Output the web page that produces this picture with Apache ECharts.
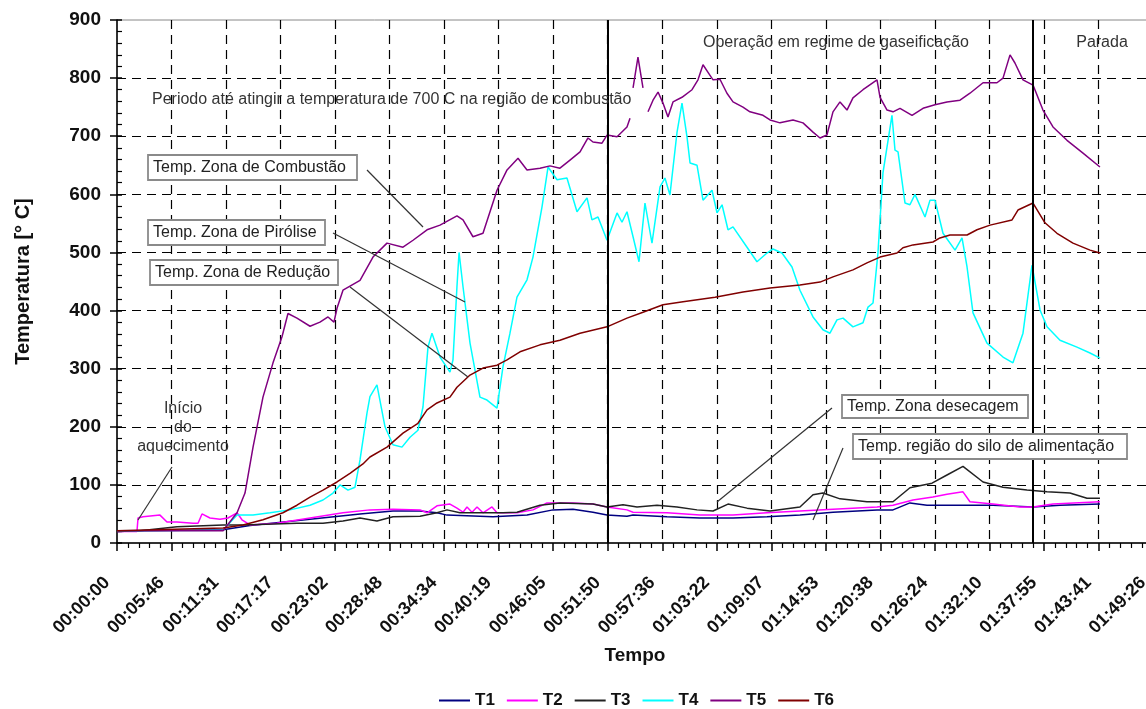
<!DOCTYPE html>
<html>
<head>
<meta charset="utf-8">
<script src="https://cdn.jsdelivr.net/npm/echarts@6/dist/echarts.min.js"></script>
<style>
  html, body { margin: 0; padding: 0; background: #fff; }
  #view1 { width: 1146px; height: 709px; }
</style>
</head>
<body>
<div id="view1"></div>
<script>
// tempo em minutos, temperatura em °C
var tickLabels = ['00:00:00', '00:05:46', '00:11:31', '00:17:17', '00:23:02', '00:28:48', '00:34:34',
  '00:40:19', '00:46:05', '00:51:50', '00:57:36', '01:03:22', '01:09:07', '01:14:53', '01:20:38',
  '01:26:24', '01:32:10', '01:37:55', '01:43:41', '01:49:26'];
var step = 6566 / 60 / 19;

var t1 = [[0, 20], [2.43, 21], [11.2, 23], [14.05, 30], [20.39, 41], [25.67, 50], [29.15, 55], [32.01, 55],
  [33.8, 52], [34.86, 48], [39.72, 45], [43.31, 48], [46.05, 57], [48.17, 58], [50.28, 53], [51.76, 48],
  [53.87, 46], [54.51, 48], [58.1, 45], [61.58, 43], [65.07, 43], [68.66, 45], [72.14, 48], [75.63, 53],
  [80.28, 57], [81.97, 57], [83.76, 69], [85.56, 65], [89.05, 65], [92.53, 65], [96.76, 62], [99.61, 65],
  [103.83, 67]];
var t2 = [[0, 20], [2.11, 20], [2.22, 43], [2.75, 45], [4.54, 48], [5.28, 36], [6.34, 36], [8.03, 34],
  [8.56, 34], [8.98, 50], [9.82, 43], [10.88, 41], [11.72, 43], [12.68, 52], [13.2, 40], [14.05, 31],
  [16.9, 34], [20.39, 43], [23.87, 52], [26.72, 57], [29.15, 58], [32.01, 57], [32.75, 52], [33.8, 64],
  [35.17, 67], [35.91, 60], [36.55, 53], [36.97, 62], [37.5, 53], [38.03, 62], [38.66, 52], [39.61, 62],
  [40.14, 52], [42.25, 52], [43.94, 57], [45.42, 69], [48.17, 69], [50.28, 67], [51.76, 62], [53.87, 57],
  [54.51, 53], [58.1, 52], [61.58, 48], [65.07, 48], [68.66, 52], [72.14, 55], [75.63, 58], [80.28, 62],
  [81.97, 65], [84.08, 74], [86.19, 79], [87.67, 84], [89.36, 88], [90.1, 71], [92.53, 67], [95.38, 62],
  [96.76, 62], [98.87, 67], [103.83, 71]];
var t3 = [[0, 20], [2.43, 21], [6.34, 28], [11.2, 31], [13.31, 31], [19.01, 34], [21.76, 34], [23.87, 38],
  [25.67, 43], [27.46, 38], [29.15, 45], [32.01, 46], [33.8, 52], [34.86, 57], [36.23, 52], [39.72, 52],
  [40.77, 52], [42.25, 53], [44.68, 65], [46.79, 69], [50.28, 67], [51.76, 62], [53.45, 66], [54.93, 62],
  [57.04, 65], [59.15, 62], [61.27, 57], [62.96, 55], [64.54, 67], [66.55, 60], [68.98, 55], [72.14, 62],
  [73.52, 83], [74.57, 86], [76.37, 76], [79.22, 71], [81.97, 71], [83.76, 95], [86.09, 103], [87.67, 117],
  [89.36, 132], [91.48, 105], [93.59, 96], [96.12, 91], [98.24, 88], [100.66, 86], [102.46, 77], [103.83, 77]];
var t4 = [[0, 21], [11.2, 22], [11.41, 26], [12.68, 48], [14.37, 48], [16.16, 52], [18.27, 57], [20.39, 65],
  [21.76, 74], [22.82, 86], [23.56, 100], [24.4, 91], [25.14, 96], [25.67, 143], [26.41, 224], [26.72, 252],
  [27.46, 272], [28.31, 200], [29.15, 169], [30.1, 165], [30.95, 182], [31.79, 194], [32.32, 234], [32.85, 337],
  [33.27, 361], [34.12, 320], [35.17, 294], [35.49, 315], [35.91, 441], [36.13, 500], [36.55, 441], [37.29, 344],
  [38.34, 251], [39.08, 246], [40.14, 232], [40.77, 303], [41.51, 361], [42.25, 423], [43.31, 453], [43.94, 492],
  [44.89, 578], [45.53, 647], [46.48, 625], [47.53, 628], [48.59, 570], [49.65, 594], [50.17, 556], [50.81, 561],
  [51.76, 521], [52.82, 568], [53.34, 552], [53.87, 570], [54.51, 527], [55.14, 484], [55.77, 585], [56.51, 516],
  [57.36, 613], [57.88, 628], [58.41, 599], [59.15, 706], [59.68, 757], [60.21, 699], [60.53, 654], [61.27, 650],
  [61.9, 590], [62.85, 607], [63.38, 568], [63.91, 582], [64.54, 539], [65.07, 544], [66.55, 509], [67.6, 484],
  [68.66, 499], [69.29, 506], [70.24, 499], [71.3, 475], [72.14, 435], [73.52, 389], [74.57, 367], [75.31, 361],
  [76.05, 384], [76.69, 387], [77.74, 372], [78.8, 379], [79.33, 406], [79.86, 413], [80.38, 499], [80.91, 637],
  [81.86, 736], [82.18, 676], [82.5, 673], [83.24, 585], [83.76, 582], [84.29, 600], [85.35, 561], [85.88, 590],
  [86.4, 590], [87.25, 533], [88.52, 504], [89.26, 525], [89.79, 475], [90.42, 396], [91.9, 344], [93.59, 320],
  [94.64, 310], [95.7, 361], [96.65, 478], [97.5, 401], [98.24, 372], [99.61, 349], [101.4, 337], [102.78, 327],
  [103.83, 318]];
var t5 = [[0, 21], [11.2, 21], [11.41, 24], [12.68, 52], [13.52, 86], [14.37, 165], [15.42, 251], [16.48, 310],
  [17.43, 355], [18.06, 395], [19.01, 387], [20.39, 373], [21.44, 380], [22.29, 389], [22.92, 380], [23.24, 404],
  [23.87, 435], [25.35, 449], [25.67, 452], [27.04, 492], [28.52, 516], [30.21, 509], [31.27, 521], [32.75, 539],
  [34.12, 547], [35.91, 563], [36.55, 556], [37.6, 527], [38.66, 533], [40.14, 607], [41.2, 642], [42.36, 662],
  [43.31, 642], [44.68, 645], [45.74, 649], [46.79, 645], [47.85, 659], [48.91, 673], [49.75, 697], [50.28, 690],
  [51.23, 688], [51.76, 702], [52.82, 699], [53.87, 716], [54.19, 731], [54.35, '-'], [54.51, 783], [55.03, 836],
  [55.56, 783], [55.8, '-'], [56.09, 742], [56.62, 762], [57.15, 776], [57.67, 757], [58.2, 733], [58.73, 759],
  [59.68, 767], [60.74, 780], [61.37, 797], [61.9, 823], [62.43, 810], [62.96, 797], [63.69, 798], [64.43, 774],
  [65.07, 759], [66.12, 750], [66.86, 742], [68.24, 736], [68.98, 728], [70.03, 723], [71.41, 728], [72.46, 723],
  [73.52, 707], [74.26, 697], [74.99, 702], [75.63, 742], [76.37, 759], [77.11, 745], [77.74, 766], [78.8, 780],
  [80.28, 797], [80.6, 767], [81.34, 745], [81.97, 742], [82.71, 748], [83.98, 736], [85.14, 748], [86.4, 754],
  [87.67, 759], [89.05, 762], [90.1, 774], [91.48, 792], [92.95, 792], [93.59, 800], [94.33, 840], [94.85, 826],
  [95.7, 797], [96.76, 788], [97.81, 745], [98.87, 716], [100.35, 693], [102.04, 671], [103.83, 647]];
var t6 = [[0, 21], [11.2, 26], [13.31, 31], [15.42, 40], [17.53, 52], [19.01, 65], [20.39, 79], [21.76, 91],
  [23.24, 105], [24.61, 120], [25.98, 136], [26.72, 148], [28.52, 165], [30.21, 189], [31.79, 206], [32.75, 229],
  [33.8, 241], [35.17, 251], [35.91, 268], [37.29, 289], [38.66, 301], [40.14, 306], [41.2, 315], [42.57, 329],
  [44.68, 341], [46.79, 349], [48.91, 361], [51.76, 372], [53.87, 387], [55.56, 397], [57.67, 410], [59.79, 415],
  [63.17, 423], [66.12, 432], [68.98, 439], [72.14, 444], [74.26, 449], [75.63, 458], [77.74, 470], [79.22, 482],
  [80.6, 492], [82.39, 499], [83.02, 508], [84.08, 513], [86.19, 518], [86.93, 525], [87.99, 530], [89.79, 530],
  [90.84, 539], [92.22, 547], [94.54, 556], [95.17, 573], [96.76, 585], [98.02, 551], [99.29, 533], [100.98, 516],
  [102.78, 504], [103.83, 499]];

// fases: início da gaseificação e parada
var phaseLines = [51.84, 96.76];

var names = ['T1', 'T2', 'T3', 'T4', 'T5', 'T6'];
var colors = ['#000080', '#ff00ff', '#222222', '#00ffff', '#800080', '#800000'];
var allData = [t1, t2, t3, t4, t5, t6];

var font = "'Liberation Sans', Arial, sans-serif";
var dashed = { color: '#000', width: 1.2, type: [9, 6] };

var series = names.map(function (n, i) {
  var s = {
    name: n,
    type: 'line',
    data: allData[i],
    showSymbol: false,
    color: colors[i],
    lineStyle: { width: 1.5 },
    connectNulls: false
  };
  if (i === 0) {
    s.markLine = {
      silent: true,
      symbol: ['none', 'none'],
      label: { show: false },
      lineStyle: { type: 'solid', color: '#000', width: 2 },
      data: phaseLines.map(function (v) { return { xAxis: v }; })
    };
  }
  return s;
});

function box(x, y, w, h, txt) {
  return [
    { type: 'rect', z: 100, shape: { x: x, y: y, width: w, height: h },
      style: { fill: '#fff', stroke: '#8a8a8a', lineWidth: 1.8 } },
    { type: 'text', z: 101, x: x + 5, y: y + h / 2,
      style: { text: txt, font: '16px ' + font, fill: '#222', verticalAlign: 'middle' } }
  ];
}
function lead(x1, y1, x2, y2) {
  return { type: 'line', z: 99, shape: { x1: x1, y1: y1, x2: x2, y2: y2 },
    style: { stroke: '#333', lineWidth: 1.2 } };
}
function note(x, y, txt, align) {
  return { type: 'text', z: 101, x: x, y: y,
    style: { text: txt, font: '16px ' + font, fill: '#333', align: align || 'left', verticalAlign: 'middle', lineHeight: 19 } };
}

var graphics = [].concat(
  lead(367, 170, 423, 227), lead(333, 233, 465, 302), lead(350, 287, 468, 377),
  lead(138, 520, 172, 467), lead(717, 502, 832, 408), lead(813, 520, 843, 448),
  box(148, 155, 209, 25, 'Temp. Zona de Combustão'),
  box(148, 220, 177, 25, 'Temp. Zona de Pirólise'),
  box(150, 260, 188, 25, 'Temp. Zona de Redução'),
  box(842, 395, 186, 23, 'Temp. Zona desecagem'),
  box(853, 434, 274, 25, 'Temp. região do silo de alimentação'),
  note(152, 100, 'Periodo até atingir a temperatura de 700 C na região de combustão'),
  note(703, 43, 'Operação em regime de gaseificação'),
  note(1102, 43, 'Parada', 'center'),
  note(183, 428, 'Início\ndo\naquecimento', 'center')
);

var option = {
  animation: false,
  backgroundColor: '#fff',
  textStyle: { fontFamily: font },
  grid: {
    left: 117, right: -7, top: 20, bottom: 166,
    containLabel: false, outerBoundsMode: 'none',
    show: true, borderColor: '#888', borderWidth: 1
  },
  legend: {
    data: names,
    left: 434,
    top: 687,
    icon: 'rect',
    itemWidth: 31,
    itemHeight: 2,
    itemGap: 12,
    textStyle: { fontSize: 17, fontWeight: 'bold', color: '#111', fontFamily: font }
  },
  xAxis: {
    type: 'value',
    min: 0,
    max: step * 19,
    interval: step,
    position: 'bottom',
    name: 'Tempo',
    nameLocation: 'middle',
    nameGap: 103,
    nameTextStyle: { fontSize: 19, fontWeight: 'bold', color: '#111' },
    axisLine: { lineStyle: { color: '#000', width: 1.5 } },
    axisTick: { length: 8, lineStyle: { color: '#000', width: 1.5 } },
    minorTick: { show: true, splitNumber: 5, length: 5, lineStyle: { color: '#000', width: 1.2 } },
    axisLabel: {
      rotate: 45,
      margin: 27,
      padding: [0, 14, 0, 0],
      fontSize: 18,
      fontWeight: 'bold',
      color: '#111',
      formatter: function (v) { return tickLabels[Math.round(v / step)]; }
    },
    splitLine: { show: true, showMinLine: false, showMaxLine: false, lineStyle: dashed }
  },
  yAxis: [{
    type: 'value',
    min: 0,
    max: 900,
    interval: 100,
    position: 'left',
    name: 'Temperatura [° C]',
    nameLocation: 'middle',
    nameGap: 84,
    nameTextStyle: { fontSize: 20, fontWeight: 'bold', color: '#111' },
    axisLine: { show: true, lineStyle: { color: '#000', width: 1.5 } },
    axisTick: { show: true, length: 7, lineStyle: { color: '#000', width: 1.5 } },
    axisLabel: { fontSize: 19, fontWeight: 'bold', color: '#111', margin: 16 },
    splitLine: { show: true, showMinLine: false, showMaxLine: false, lineStyle: dashed }
  }, {
    type: 'value',
    min: 0,
    max: 900,
    interval: 100,
    position: 'left',
    axisLine: { show: false },
    axisLabel: { show: false },
    splitLine: { show: false },
    axisTick: { show: true, inside: true, length: 5, lineStyle: { color: '#000', width: 1.5 } },
    minorTick: { show: true, splitNumber: 5, length: 5, lineStyle: { color: '#000', width: 1.2 } }
  }],
  graphic: graphics,
  series: series
};

echarts.init(document.getElementById('view1')).setOption(option);
</script>
</body>
</html>
